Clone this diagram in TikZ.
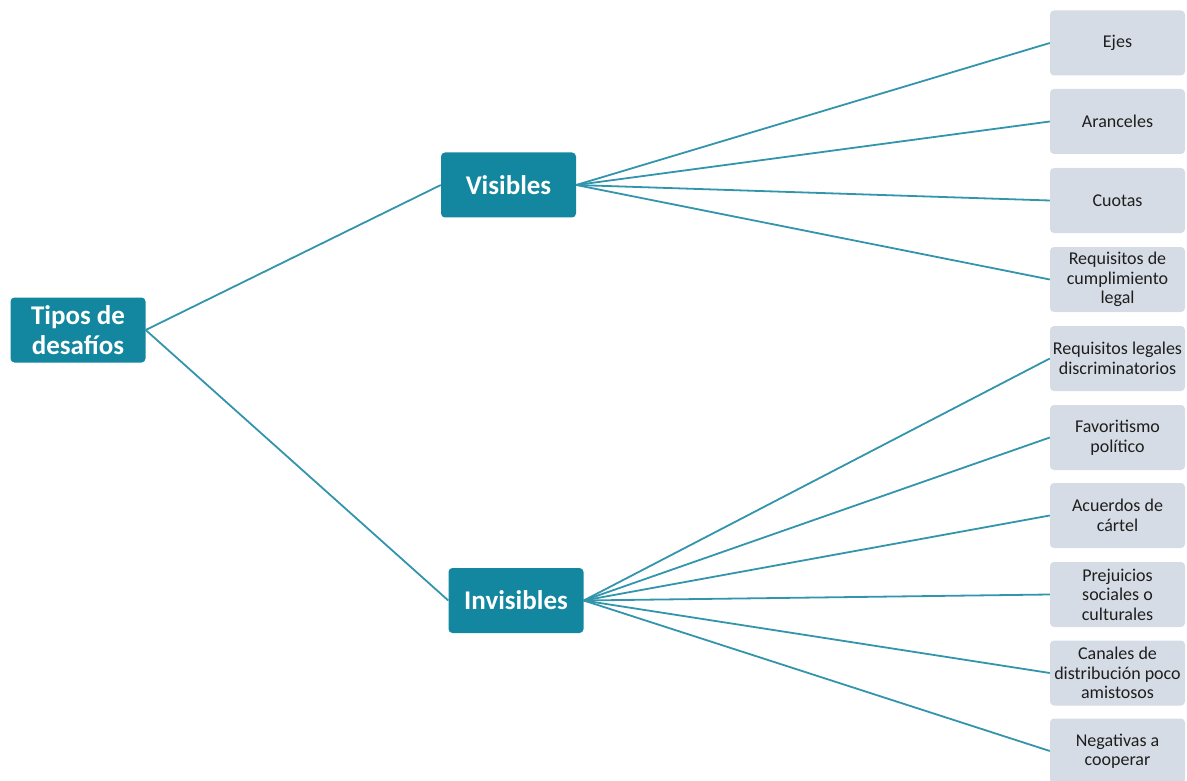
\documentclass[tikz,border=0pt]{standalone}
\usepackage{fontspec}
\setmainfont{Carlito}
\definecolor{teal1}{HTML}{12879F}
\definecolor{linec}{HTML}{3295AC}
\definecolor{leaf}{HTML}{D6DCE5}
\definecolor{txt}{HTML}{1E1E1E}
\tikzset{
  mainbox/.style={fill=teal1, rounded corners=4pt, minimum width=135pt, minimum height=65pt,
    text=white, font=\fontsize{27}{30}\selectfont\bfseries, align=center, inner sep=0pt},
  leafbox/.style={fill=leaf, rounded corners=4pt, minimum width=135pt, minimum height=65pt,
    text=txt, font=\fontsize{18}{19.5}\selectfont, align=center, inner sep=0pt},
  conn/.style={draw=linec, line width=1.8pt}
}
\begin{document}
\begin{tikzpicture}[x=1pt,y=-1pt]
\useasboundingbox (0,0) rectangle (1187,781);
\node[mainbox] (root) at (78,330) {Tipos de\\desafíos};
\node[mainbox] (vis) at (508.5,185) {Visibles};
\node[mainbox] (inv) at (516,600.5) {Invisibles};
\node[leafbox] (l1) at (1117.5,43) {Ejes};
\node[leafbox] (l2) at (1117.5,121.5) {Aranceles};
\node[leafbox] (l3) at (1117.5,200.5) {Cuotas};
\node[leafbox] (l4) at (1117.5,279.5) {Requisitos de\\cumplimiento\\legal};
\node[leafbox] (l5) at (1117.5,358.5) {Requisitos legales\\discriminatorios};
\node[leafbox] (l6) at (1117.5,437.5) {Favoritismo\\político};
\node[leafbox] (l7) at (1117.5,515.5) {Acuerdos de\\cártel};
\node[leafbox] (l8) at (1117.5,594.5) {Prejuicios\\sociales o\\culturales};
\node[leafbox] (l9) at (1117.5,673) {Canales de\\distribución poco\\amistosos};
\node[leafbox] (l10) at (1117.5,751) {Negativas a\\cooperar};
\draw[conn] (root.east) -- (vis.west);
\draw[conn] (root.east) -- (inv.west);
\foreach \n in {l1,l2,l3,l4} { \draw[conn] (vis.east) -- (\n.west); }
\foreach \n in {l5,l6,l7,l8,l9,l10} { \draw[conn] (inv.east) -- (\n.west); }
\end{tikzpicture}
\end{document}
